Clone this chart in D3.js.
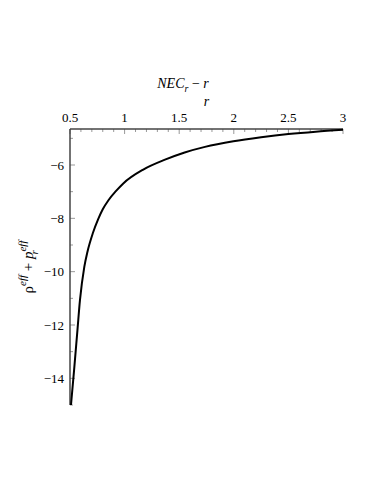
<!DOCTYPE html>
<html>
<head>
<meta charset="utf-8">
<script src="https://cdn.jsdelivr.net/npm/d3@7"></script>
<style>
  body { margin: 0; background: #fff; }
</style>
</head>
<body>
<script>
// values
var rValues = [0.509, 0.537, 0.568, 0.591, 0.631, 0.66, 0.708, 0.759, 0.8, 0.852, 0.92, 0.988, 1.171, 1.37, 1.55, 1.736, 1.996, 2.25, 2.5, 2.75, 3.0];
var necValues = [-15.0, -13.71, -12.2, -11.08, -9.82, -9.25, -8.57, -8.02, -7.66, -7.32, -6.98, -6.69, -6.17, -5.8, -5.53, -5.32, -5.11, -4.96, -4.84, -4.75, -4.68];
var xTicks = [0.5, 1, 1.5, 2, 2.5, 3];
var yTicks = [-6, -8, -10, -12, -14];

var width = 374, height = 484;
var plotLeft = 70, plotRight = 343, plotTop = 129, plotBottom = 405;
var serif = "'Liberation Serif', 'Times New Roman', Times, 'DejaVu Serif', serif";

var svg = d3.select("body").append("svg")
    .attr("width", width)
    .attr("height", height)
    .attr("font-family", serif)
    .style("font-family", serif);

var x = d3.scaleLinear().domain([0.5, 3]).range([plotLeft, plotRight]);
var y = d3.scaleLinear().domain([-4.65, -15]).range([plotTop, plotBottom]);

// minor ticks
var xMinor = d3.range(0.5, 3.0001, 0.1);
var yMinor = d3.range(-5, -15.0001, -1);

svg.append("g").selectAll("line")
    .data(xMinor)
    .enter().append("line")
    .attr("x1", function(d){ return x(d); })
    .attr("x2", function(d){ return x(d); })
    .attr("y1", plotTop)
    .attr("y2", function(d){ return xTicks.some(function(t){ return Math.abs(t-d)<1e-6; }) ? plotTop+5 : plotTop+3; })
    .attr("stroke", "#999")
    .attr("stroke-width", 1);

svg.append("g").selectAll("line")
    .data(yMinor)
    .enter().append("line")
    .attr("y1", function(d){ return y(d); })
    .attr("y2", function(d){ return y(d); })
    .attr("x1", plotLeft)
    .attr("x2", function(d){ return d % 2 === 0 ? plotLeft+5 : plotLeft+3; })
    .attr("stroke", "#999")
    .attr("stroke-width", 1);

// axis lines
svg.append("line")
    .attr("x1", plotLeft).attr("x2", plotRight)
    .attr("y1", plotTop).attr("y2", plotTop)
    .attr("stroke", "#444").attr("stroke-width", 1.5);
svg.append("line")
    .attr("x1", plotLeft).attr("x2", plotLeft)
    .attr("y1", plotTop).attr("y2", plotBottom)
    .attr("stroke", "#444").attr("stroke-width", 1.5);

// tick labels
svg.append("g").selectAll("text")
    .data(xTicks)
    .enter().append("text")
    .attr("x", function(d){ return x(d); })
    .attr("y", plotTop - 7)
    .attr("text-anchor", "middle")
    .attr("font-size", 13)
    .text(function(d){ return d3.format("")(d); });

svg.append("g").selectAll("text")
    .data(yTicks)
    .enter().append("text")
    .attr("x", plotLeft - 6)
    .attr("y", function(d){ return y(d) + 4.5; })
    .attr("text-anchor", "end")
    .attr("font-size", 13)
    .text(function(d){ return "\u2212" + Math.abs(d); });

// curve
var line = d3.line()
    .x(function(d){ return x(d[0]); })
    .y(function(d){ return y(d[1]); })
    .curve(d3.curveMonotoneX);

svg.append("path")
    .datum(d3.zip(rValues, necValues))
    .attr("d", line)
    .attr("fill", "none")
    .attr("stroke", "#000")
    .attr("stroke-width", 2);

// titles
var title = svg.append("text")
    .attr("x", 183).attr("y", 88)
    .attr("text-anchor", "middle")
    .attr("font-size", 14)
    .attr("font-style", "italic");
title.append("tspan").text("NEC");
title.append("tspan").attr("font-size", 10).attr("dy", 4).text("r");
title.append("tspan").attr("dy", -4).attr("font-style", "normal").text(" \u2212 ");
title.append("tspan").text("r");

svg.append("text")
    .attr("x", (plotLeft + plotRight) / 2).attr("y", 106)
    .attr("text-anchor", "middle")
    .attr("font-size", 14)
    .attr("font-style", "italic")
    .text("r");

var ylab = svg.append("text")
    .attr("transform", "translate(33," + 267 + ") rotate(-90)")
    .attr("text-anchor", "middle")
    .attr("font-size", 15);
ylab.append("tspan").text("\u03c1");
ylab.append("tspan").attr("font-size", 11).attr("dy", -7).attr("font-style", "italic").text("eff");
ylab.append("tspan").attr("dy", 7).text(" + ");
ylab.append("tspan").attr("font-style", "italic").text("p");
ylab.append("tspan").attr("font-size", 11).attr("dy", -7).attr("font-style", "italic").text("eff");
ylab.append("tspan").attr("font-size", 11).attr("dx", -14).attr("dy", 12).attr("font-style", "italic").text("r");
</script>
</body>
</html>
